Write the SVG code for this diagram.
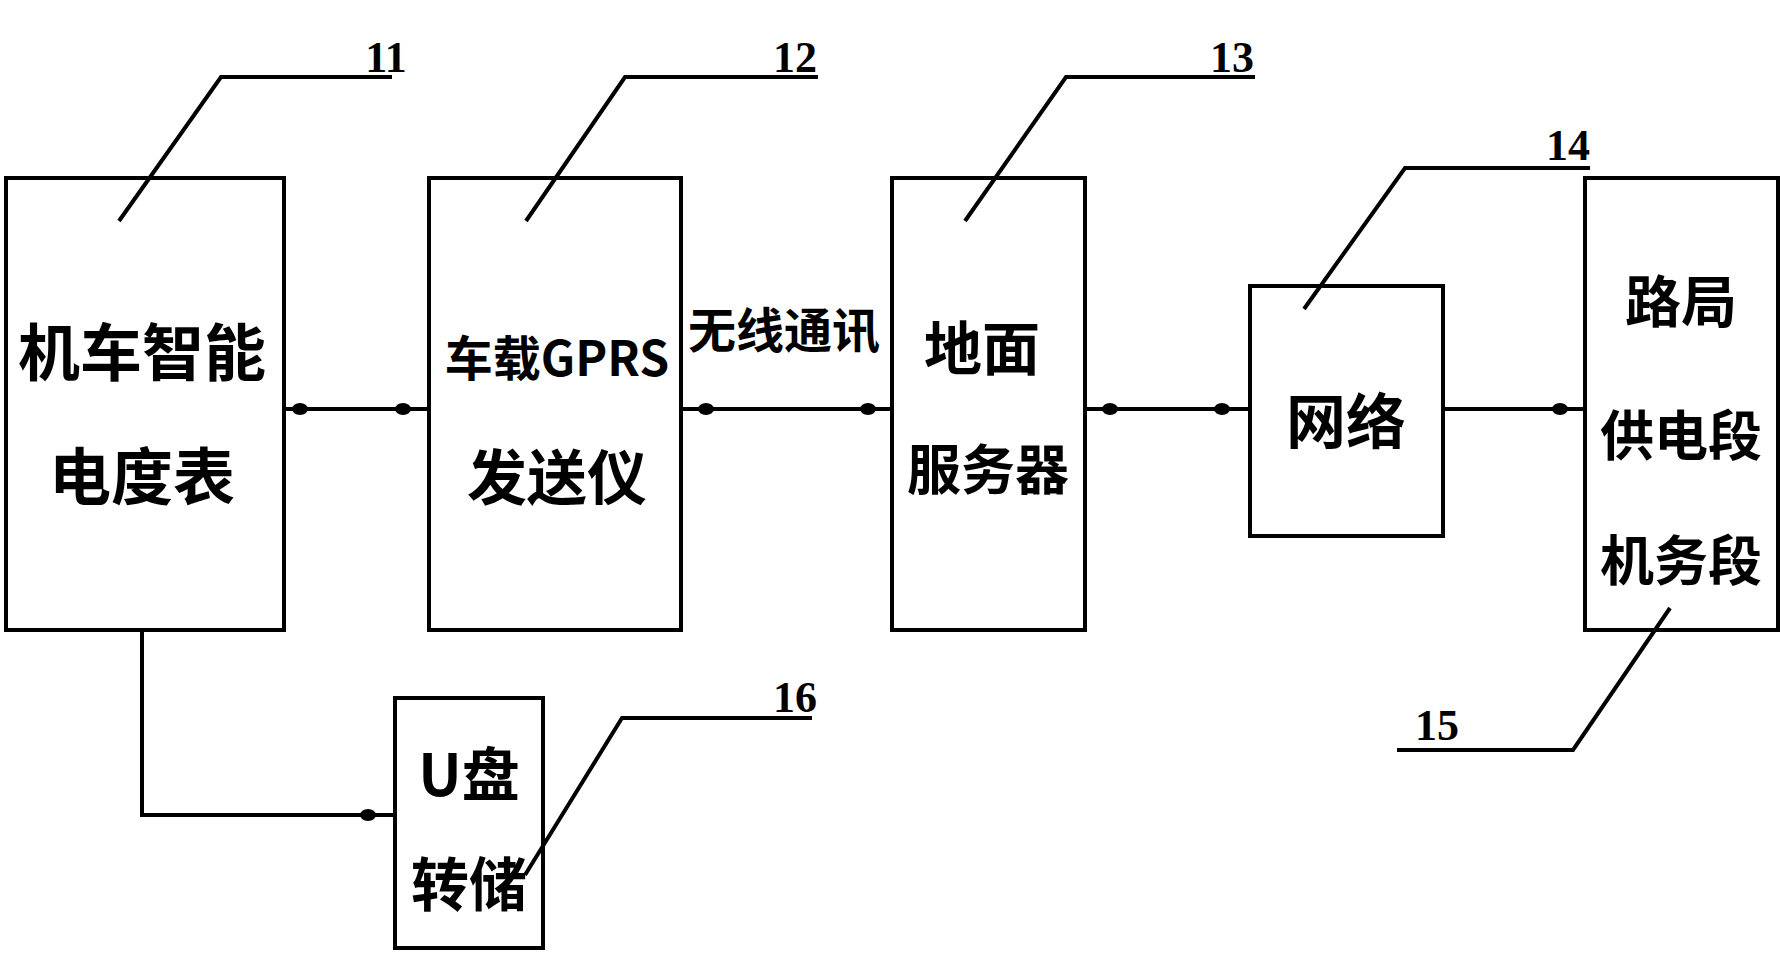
<svg xmlns="http://www.w3.org/2000/svg" width="1781" height="965" viewBox="0 0 1781 965">
<style>
.b{fill:none;stroke:#000;stroke-width:4}
.l{fill:none;stroke:#000;stroke-width:4}
.dt{fill:#000}
.t{font-family:"Noto Sans CJK SC","Liberation Sans",sans-serif;font-weight:bold;text-anchor:middle;fill:#000}
.n{font-family:"Liberation Serif",serif;font-weight:bold;font-size:44px;text-anchor:middle;fill:#000}
</style>
<rect width="1781" height="965" fill="#fff"/>
<g id="connectors">
<line class="l" x1="284" y1="409" x2="429" y2="409"/>
<line class="l" x1="681" y1="409" x2="892" y2="409" stroke-width="6"/>
<line class="l" x1="1085" y1="409" x2="1250" y2="409"/>
<line class="l" x1="1443" y1="409" x2="1585" y2="409"/>
<polyline class="l" points="142,630 142,815 395,815"/>
<g class="dt">
<ellipse cx="300" cy="409" rx="8" ry="6"/><ellipse cx="403" cy="409" rx="8" ry="6"/>
<ellipse cx="706" cy="409" rx="8" ry="6"/><ellipse cx="868" cy="409" rx="8" ry="6"/>
<ellipse cx="1110" cy="409" rx="8" ry="6"/><ellipse cx="1222" cy="409" rx="8" ry="6"/>
<ellipse cx="1560" cy="409" rx="8" ry="6"/><ellipse cx="368" cy="815" rx="8" ry="6"/>
</g>
<polyline class="l" points="119,221 221,77 392,77"/>
<polyline class="l" points="526,221 625,77 818,77"/>
<polyline class="l" points="965,221 1066,77 1255,77"/>
<polyline class="l" points="1304,309 1405,168 1590,168"/>
<polyline class="l" points="1670,608 1573,750 1397,750"/>
<polyline class="l" points="525,875 622,718 812,718"/>
<text class="t" x="784" y="348" font-size="48">无线通讯</text>
</g>
<g id="n11"><rect class="b" x="6" y="178" width="278" height="452"/><text class="t" x="142" y="376" font-size="62">机车智能</text><text class="t" x="142" y="500" font-size="62">电度表</text><text class="n" x="386" y="72">11</text></g>
<g id="n12"><rect class="b" x="429" y="178" width="252" height="452"/><text class="t" x="557" y="376" font-size="48">车载GPRS</text><text class="t" x="557" y="500" font-size="60">发送仪</text><text class="n" x="795" y="72">12</text></g>
<g id="n13"><rect class="b" x="892" y="178" width="193" height="452"/><text class="t" x="982" y="370" font-size="58">地面</text><text class="t" x="988" y="490" font-size="54">服务器</text><text class="n" x="1232" y="72">13</text></g>
<g id="n14"><rect class="b" x="1250" y="286" width="193" height="250"/><text class="t" x="1346" y="444" font-size="60">网络</text><text class="n" x="1568" y="160">14</text></g>
<g id="n15"><rect class="b" x="1585" y="178" width="193" height="452"/><text class="t" x="1681" y="322" font-size="56">路局</text><text class="t" x="1681" y="456" font-size="54">供电段</text><text class="t" x="1681" y="581" font-size="54">机务段</text><text class="n" x="1437" y="740">15</text></g>
<g id="n16"><rect class="b" x="395" y="698" width="148" height="250"/><text class="t" x="469" y="796" font-size="58">U盘</text><text class="t" x="469" y="906" font-size="58">转储</text><text class="n" x="795" y="712">16</text></g>
</svg>
